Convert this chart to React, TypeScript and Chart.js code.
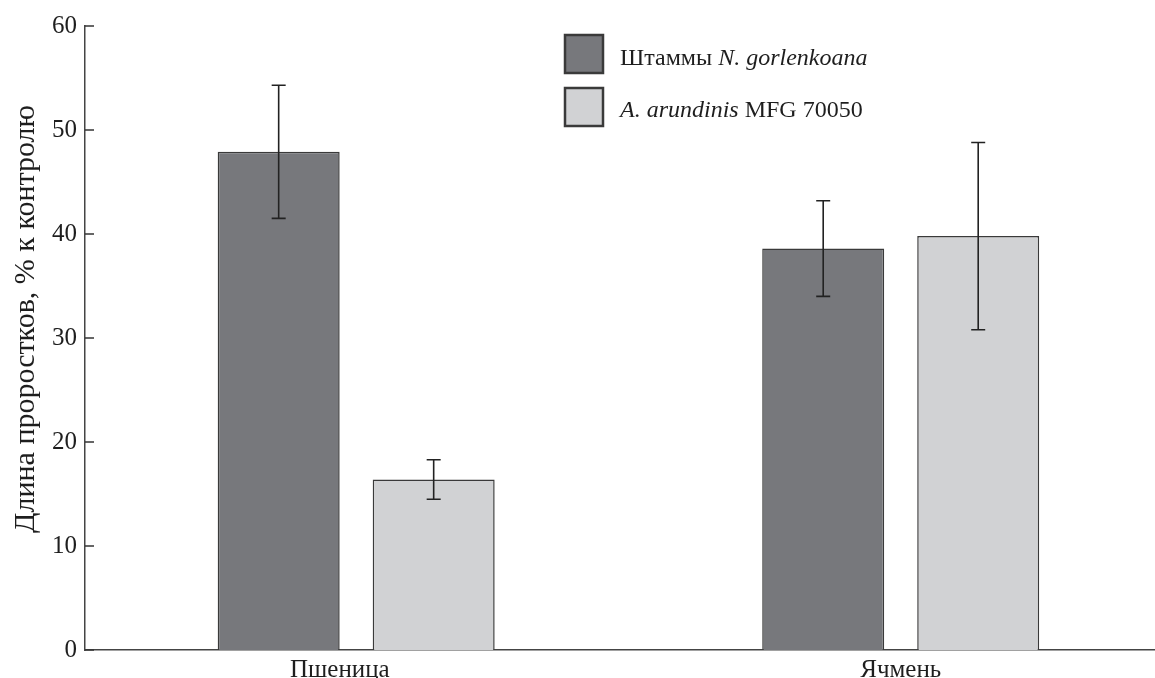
import React, { useEffect, useRef } from "react";
import { Chart, registerables } from "chart.js";

Chart.register(...registerables);

// ---- data ----
const categories = ["Пшеница", "Ячмень"];
const strainValues = [47.9, 38.6];
const strainErrors = [6.4, 4.6];
const referenceValues = [16.4, 39.8];
const referenceErrors = [1.9, 9.0];
const yMin = 0;
const yMax = 60;
const yStep = 10;
const yTitle = "Длина проростков, % к контролю";
const legendRows = [
  [
    { text: "Штаммы ", italic: false },
    { text: "N. gorlenkoana", italic: true },
  ],
  [
    { text: "A. arundinis", italic: true },
    { text: " MFG 70050", italic: false },
  ],
];

const DARK = "#77787c";
const LIGHT = "#d1d2d4";
const EDGE = "#3a3a3a";
const TEXT = "#1e1e1e";
const FONT = '"Liberation Serif", "Times New Roman", serif';
// small horizontal nudge of category labels (in x-axis units)
const LABEL_NUDGE = [-0.03, 0];

const errorBarPlugin = {
  id: "errorBars",
  afterDatasetsDraw(chart: any) {
    const ctx = chart.ctx;
    const y = chart.scales.y;
    chart.data.datasets.forEach((ds: any, i: number) => {
      const meta = chart.getDatasetMeta(i);
      meta.data.forEach((bar: any, j: number) => {
        const v = ds.data[j].y;
        const e = ds.errors[j];
        const yt = y.getPixelForValue(v + e);
        const yb = y.getPixelForValue(v - e);
        const x = bar.x;
        ctx.save();
        ctx.strokeStyle = "#222";
        ctx.lineWidth = 1.6;
        ctx.beginPath();
        ctx.moveTo(x, yt);
        ctx.lineTo(x, yb);
        ctx.moveTo(x - 7, yt);
        ctx.lineTo(x + 7, yt);
        ctx.moveTo(x - 7, yb);
        ctx.lineTo(x + 7, yb);
        ctx.stroke();
        ctx.restore();
      });
    });
  },
};

const decorPlugin = {
  id: "decor",
  afterDraw(chart: any) {
    const ctx = chart.ctx;
    const y = chart.scales.y;
    const area = chart.chartArea;
    ctx.save();
    // inward y ticks
    ctx.strokeStyle = "#333";
    ctx.lineWidth = 1.5;
    y.ticks.forEach((t: any) => {
      const py = y.getPixelForValue(t.value);
      ctx.beginPath();
      ctx.moveTo(area.left, py);
      ctx.lineTo(area.left + 9, py);
      ctx.stroke();
    });
    // y title
    ctx.fillStyle = TEXT;
    ctx.font = `30px ${FONT}`;
    ctx.textAlign = "center";
    ctx.textBaseline = "alphabetic";
    ctx.translate(34, 319);
    ctx.rotate(-Math.PI / 2);
    ctx.fillText(yTitle, 0, 0);
    ctx.restore();

    // legend
    ctx.save();
    const fills = [DARK, LIGHT];
    const boxTops = [35, 88];
    const baselines = [65, 117];
    legendRows.forEach((row, i) => {
      ctx.fillStyle = fills[i];
      ctx.fillRect(565, boxTops[i], 38, 38);
      ctx.strokeStyle = EDGE;
      ctx.lineWidth = 2.5;
      ctx.strokeRect(565, boxTops[i], 38, 38);
      let x = 620;
      ctx.fillStyle = TEXT;
      ctx.textAlign = "left";
      ctx.textBaseline = "alphabetic";
      row.forEach((part) => {
        ctx.font = `${part.italic ? "italic " : ""}24px ${FONT}`;
        ctx.fillText(part.text, x, baselines[i]);
        x += ctx.measureText(part.text).width;
      });
    });
    ctx.restore();
  },
};

export default function App() {
  const ref = useRef<HTMLCanvasElement | null>(null);
  useEffect(() => {
    if (!ref.current) return;
    const chart = new Chart(ref.current, {
      type: "bar",
      data: {
        datasets: [
          {
            label: "Штаммы N. gorlenkoana",
            data: strainValues.map((v, i) => ({ x: i + 1, y: v })),
            errors: strainErrors,
            backgroundColor: DARK,
            borderColor: EDGE,
            borderWidth: 1.5,
          } as any,
          {
            label: "A. arundinis MFG 70050",
            data: referenceValues.map((v, i) => ({ x: i + 1, y: v })),
            errors: referenceErrors,
            backgroundColor: LIGHT,
            borderColor: EDGE,
            borderWidth: 1.5,
          } as any,
        ],
      },
      options: {
        animation: false,
        responsive: false,
        devicePixelRatio: 1,
        categoryPercentage: 0.5693,
        barPercentage: 0.787,
        layout: { padding: { left: 0, right: 0, top: 26, bottom: 0 } },
        plugins: {
          legend: { display: false },
          tooltip: { enabled: false },
        },
        scales: {
          x: {
            type: "linear",
            min: 0.502,
            max: 2.467,
            offset: false,
            grid: { display: false, drawTicks: false, offset: false },
            border: { display: true, color: "#444", width: 1.5 },
            afterBuildTicks: (scale: any) => {
              scale.ticks = categories.map((_, i) => ({ value: i + 1 + LABEL_NUDGE[i] }));
            },
            afterFit: (scale: any) => {
              scale.height = 28;
            },
            ticks: {
              padding: 5,
              maxRotation: 0,
              autoSkip: false,
              color: TEXT,
              font: { family: FONT, size: 25 },
              callback: (_v: any, index: number) => categories[index],
            },
          },
          y: {
            min: yMin,
            max: yMax,
            grid: { display: false, drawTicks: false },
            border: { display: true, color: "#444", width: 1.5 },
            afterFit: (scale: any) => {
              scale.width = 85;
            },
            ticks: {
              stepSize: yStep,
              padding: 8,
              color: TEXT,
              font: { family: FONT, size: 25 },
            },
          },
        },
      } as any,
      plugins: [errorBarPlugin, decorPlugin],
    });
    return () => chart.destroy();
  }, []);
  return (
    <div style={{ position: "absolute", left: 0, top: 0, width: 1155, height: 678, background: "#fff" }}>
      <canvas ref={ref} width={1155} height={678} style={{ display: "block" }} />
    </div>
  );
}
